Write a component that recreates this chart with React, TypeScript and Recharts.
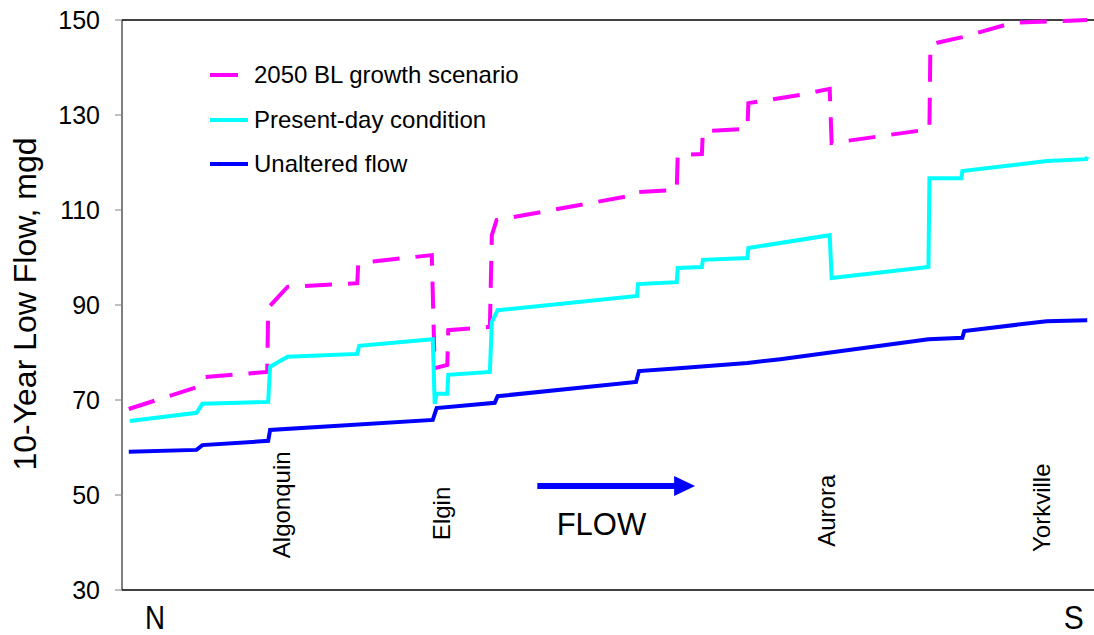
import {
	Legend,
	Line,
	LineChart,
	ReferenceDot,
	ReferenceLine,
	XAxis,
	YAxis,
} from "recharts";

const FONT = '"Liberation Sans", Arial, sans-serif';

// distance along the river (0 = north end, 100 = south end)
const scenarioMiles = [0.7, 7.7, 8.3, 15.0, 15.1, 16.5, 17.1, 24.3, 24.4, 25.6, 32.0, 32.3, 33.6, 33.7, 38.0, 38.2, 38.7, 40.4, 53.1, 53.3, 57.3, 57.4, 59.9, 60.0, 64.6, 64.7, 70.0, 73.1, 73.3, 83.4, 83.5, 84.2, 86.8, 92.0, 99.7];
const scenarioFlow = [68.1, 72.7, 74.8, 75.9, 89.4, 92.5, 93.8, 94.6, 98.6, 99.1, 100.5, 76.7, 77.4, 84.7, 85.4, 104.7, 107.9, 108.5, 113.2, 113.8, 114.2, 121.6, 121.8, 126.6, 127.1, 132.5, 134.2, 135.5, 124.1, 127.0, 144.7, 145.2, 146.4, 149.4, 150];

const presentMiles = [0.8, 7.7, 8.3, 15.1, 15.3, 17.1, 24.3, 24.5, 32.1, 32.3, 32.5, 33.6, 33.7, 38.0, 38.2, 38.8, 53.2, 53.3, 57.3, 57.4, 59.9, 60.0, 64.6, 64.7, 73.1, 73.3, 83.3, 83.4, 86.7, 86.8, 95.5, 99.6, 99.7];
const presentFlow = [65.6, 67.3, 69.2, 69.6, 77.0, 79.1, 79.7, 81.4, 82.8, 69.2, 71.3, 71.3, 75.3, 75.9, 86.4, 88.9, 91.9, 94.4, 94.8, 97.8, 98.0, 99.5, 99.9, 102.0, 104.7, 95.7, 98.0, 116.7, 116.7, 118.2, 120.3, 120.7, 121.2];

const unalteredMiles = [0.7, 7.7, 8.3, 15.1, 15.3, 32.1, 32.5, 38.5, 38.8, 53.1, 53.4, 57.5, 64.6, 68.0, 83.3, 86.8, 87.0, 95.5, 99.7];
const unalteredFlow = [59.1, 59.5, 60.5, 61.4, 63.7, 65.8, 68.3, 69.4, 70.8, 73.8, 76.1, 76.7, 77.8, 78.6, 82.8, 83.1, 84.5, 86.6, 86.8];

const yTicks = [30, 50, 70, 90, 110, 130, 150];

const towns = ["Algonquin", "Elgin", "Aurora", "Yorkville"];
const townMiles = [17.4, 33.9, 73.6, 95.9];
const townBaseFlow = [36.7, 40.5, 39.1, 38.0];

const compassLabels = ["N", "S"];
const compassMiles = [3.4, 98.3];

const toPoints = (xs: number[], ys: number[]) => xs.map((x, i) => ({ x, y: ys[i] }));

const series = [
	{ name: "2050 BL growth scenario", color: "#ff00ff", dash: "27 16", data: toPoints(scenarioMiles, scenarioFlow) },
	{ name: "Present-day condition", color: "#00ffff", dash: undefined, data: toPoints(presentMiles, presentFlow) },
	{ name: "Unaltered flow", color: "#0000ff", dash: undefined, data: toPoints(unalteredMiles, unalteredFlow) },
];

function CompassTick(props: any) {
	const { x, y, payload } = props;
	const i = compassMiles.indexOf(payload.value);
	return (
		<text
			x={x}
			y={y + 39}
			textAnchor="middle"
			fontFamily={FONT}
			fontSize={34}
			fill="#000"
			textLength={20}
			lengthAdjust="spacingAndGlyphs"
		>
			{compassLabels[i]}
		</text>
	);
}

function FlowLegend() {
	return (
		<div style={{ fontFamily: FONT, fontSize: 24, color: "#000" }}>
			{series.map((s) => (
				<div key={s.name} style={{ display: "flex", alignItems: "center", height: 44.5 }}>
					<svg width={44} height={6} style={{ display: "block" }}>
						<line x1={0} x2={s.dash ? 28 : 38} y1={3} y2={3} stroke={s.color} strokeWidth={4} />
					</svg>
					<span style={{ whiteSpace: "nowrap" }}>{s.name}</span>
				</div>
			))}
		</div>
	);
}

export default function App() {
	return (
		<div style={{ position: "absolute", left: 0, top: 0, background: "#fff" }}>
			<LineChart width={1094} height={635} margin={{ top: 20, right: 0, left: 0, bottom: 0 }}>
				<XAxis
					type="number"
					dataKey="x"
					domain={[0, 100.4]}
					allowDataOverflow
					ticks={compassMiles}
					tick={<CompassTick />}
					tickLine={false}
					tickSize={0}
					tickMargin={0}
					height={45}
					axisLine={{ stroke: "#404040", strokeWidth: 2 }}
				/>
				<YAxis
					type="number"
					domain={[30, 150]}
					ticks={yTicks}
					width={122}
					tickSize={7}
					tickMargin={15}
					tick={{ fontSize: 25, fill: "#000", fontFamily: FONT }}
					tickLine={{ stroke: "#808080" }}
					axisLine={{ stroke: "#000" }}
					label={{
						content: () => (
							<text
								x={36}
								y={304}
								transform="rotate(-90, 36, 304)"
								textAnchor="middle"
								fontFamily={FONT}
								fontSize={32}
								fill="#000"
							>
								10-Year Low Flow, mgd
							</text>
						),
					}}
				/>
				<ReferenceLine y={150} stroke="#404040" strokeWidth={2} />
				<Legend
					layout="vertical"
					verticalAlign="middle"
					align="center"
					wrapperStyle={{ left: 210, top: 53, width: "auto" }}
					content={() => <FlowLegend />}
				/>
				{series.map((s) => (
					<Line
						key={s.name}
						data={s.data}
						dataKey="y"
						name={s.name}
						type="linear"
						stroke={s.color}
						strokeWidth={4}
						strokeDasharray={s.dash}
						dot={false}
						activeDot={false}
						isAnimationActive={false}
					/>
				))}
				{towns.map((t, i) => (
					<ReferenceDot
						key={t}
						x={townMiles[i]}
						y={townBaseFlow[i]}
						r={0}
						shape={(p: any) => (
							<text
								x={p.cx}
								y={p.cy}
								transform={`rotate(-90, ${p.cx}, ${p.cy})`}
								fontFamily={FONT}
								fontSize={24}
								fill="#000"
							>
								{t}
							</text>
						)}
					/>
				))}
				<ReferenceLine
					segment={[
						{ x: 42.9, y: 51.9 },
						{ x: 57.3, y: 51.9 },
					]}
					stroke="#0000ff"
					strokeWidth={6}
				/>
				<ReferenceDot
					x={59.2}
					y={51.9}
					r={0}
					shape={(p: any) => (
						<path d={`M${p.cx},${p.cy} L${p.cx - 21},${p.cy - 10} L${p.cx - 21},${p.cy + 10} Z`} fill="#0000ff" />
					)}
				/>
				<ReferenceDot
					x={44.9}
					y={41.6}
					r={0}
					shape={(p: any) => (
						<text x={p.cx} y={p.cy} fontFamily={FONT} fontSize={31} fill="#000">
							FLOW
						</text>
					)}
				/>
			</LineChart>
		</div>
	);
}
